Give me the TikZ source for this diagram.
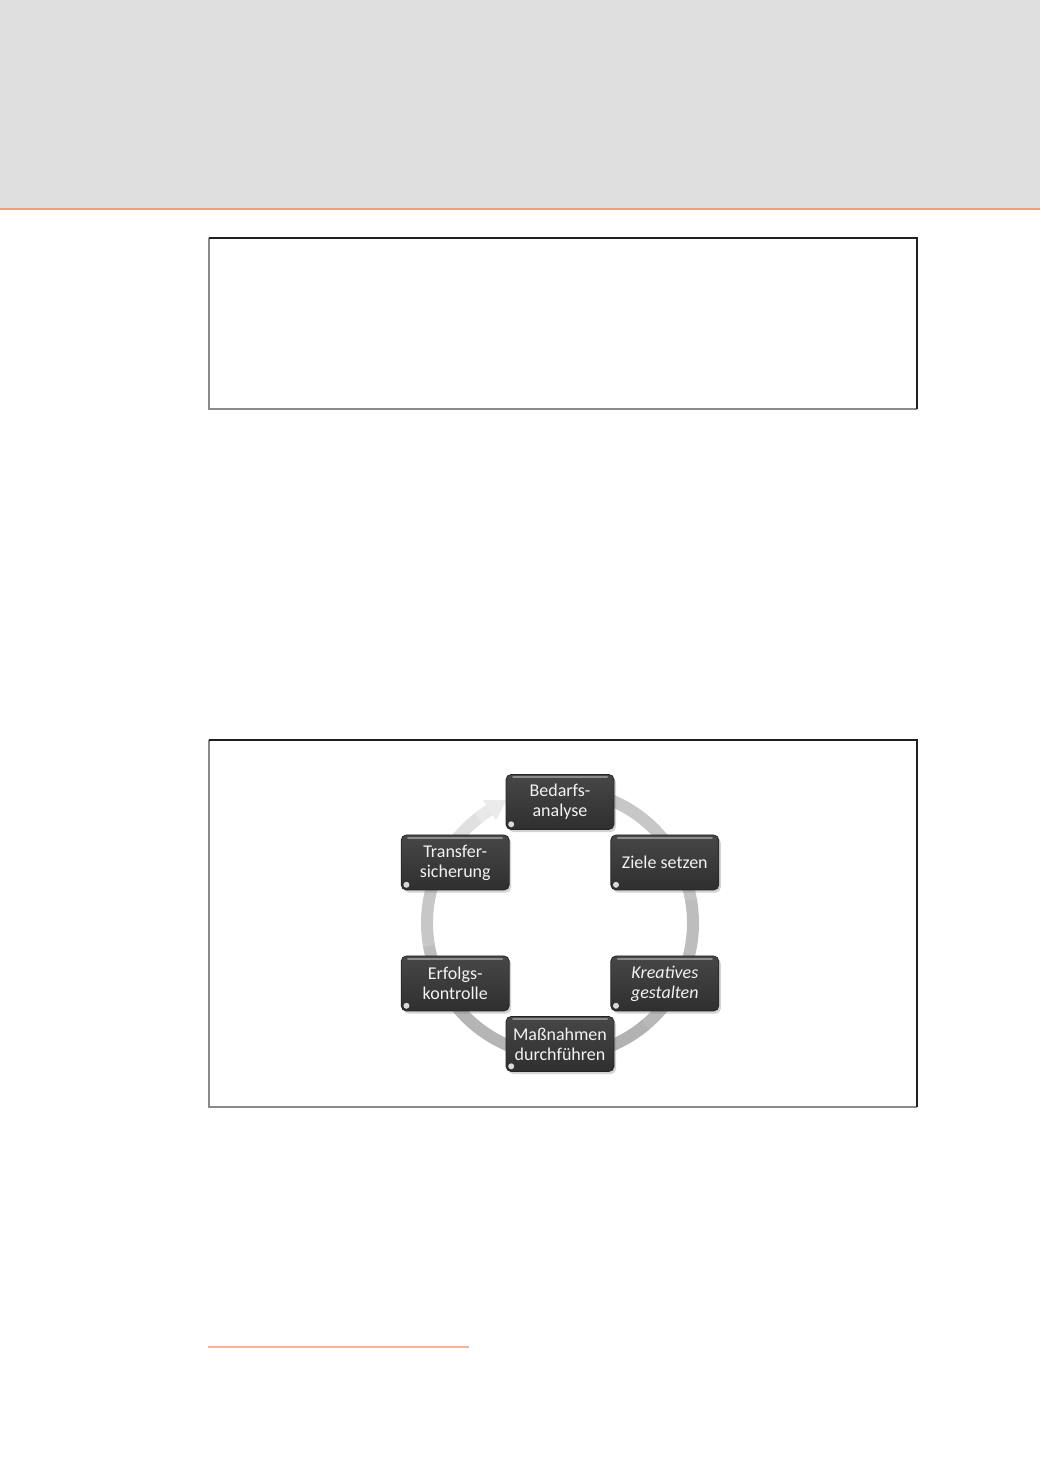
\documentclass[tikz,border=0pt]{standalone}
\usepackage{fontspec}
\setmainfont{Carlito}
\usetikzlibrary{shadows}
\definecolor{headergray}{HTML}{DFDFDF}
\definecolor{orangeline}{HTML}{F39C70}
\definecolor{footorange}{HTML}{F7B293}
\definecolor{boxdark}{HTML}{231F20}
\definecolor{boxgray}{HTML}{8C8A88}
\definecolor{nodetop}{HTML}{474747}
\definecolor{nodebottom}{HTML}{2F2F2F}
\definecolor{nodeedge}{HTML}{252525}
\newcommand{\stagefont}{\fontsize{9}{10}\selectfont}
\tikzset{
  stagebox/.style={rounded corners=2.6pt, top color=nodetop, bottom color=nodebottom,
    draw=nodeedge, line width=0.4pt, minimum width=54pt, minimum height=27.5pt,
    inner sep=0pt, align=center, text=white!95!black, font=\stagefont,
    drop shadow={shadow xshift=1pt, shadow yshift=-1.3pt, opacity=0.35},
    path picture={
      \draw[white!55!black, line width=1pt, line cap=round]
        ([xshift=3.5pt,yshift=-1.3pt]path picture bounding box.north west) --
        ([xshift=-3.5pt,yshift=-1.3pt]path picture bounding box.north east);
      \fill[white!85!black]
        ([xshift=2.6pt,yshift=2.6pt]path picture bounding box.south west) circle (1.5pt);
    }},
  boxdarkline/.style={draw=boxdark, line width=0.65pt},
  boxgrayline/.style={draw=boxgray, line width=1pt},
}
\begin{document}
\begin{tikzpicture}[x=0.5pt,y=0.5pt]
\useasboundingbox (0,0) rectangle (1040,1471);
% header
\fill[headergray] (0,1263) rectangle (1040,1471);
\draw[orangeline, line width=1.2pt] (0,1262) -- (1040,1262);
% upper empty box
\draw[boxgrayline] (208.5,1233) -- (208.5,1062) -- (917,1062);
\draw[boxdarkline] (208.5,1233) -- (917,1233) -- (917,1062);
% lower figure box
\draw[boxgrayline] (208.5,731) -- (208.5,364) -- (917,364);
\draw[boxdarkline] (208.5,731) -- (917,731) -- (917,364);
% footnote rule
\draw[footorange, line width=0.8pt] (208,124) -- (469,124);

% cycle ring
\coordinate (c) at (560,548);
\foreach \a/\b/\k in {68/40/22, 40/10/23, 10/-20/26, -20/-50/28, -50/-80/30,
  -80/-110/31, -110/-140/29, -140/-170/26, -170/-200/22, -200/-220/17,
  -220/-232/12, -232/-238/9}{
  \draw[black!\k, line width=6pt] ([shift={(\a:66.5pt)}]c) arc[start angle=\a, end angle=\b-0.7, radius=66.5pt];
}
\fill[black!8] ([shift={(122:60.5pt)}]c) -- ([shift={(122:72.5pt)}]c) -- ([shift={(113.5:67pt)}]c) -- cycle;

% stages
\node[stagebox] (bedarf) at ([shift={(90:60.5pt)}]c) {Bedarfs-\\analyse};
\node[stagebox] (ziele) at ([shift={(30:60.5pt)}]c) {Ziele setzen};
\node[stagebox] (kreativ) at ([shift={(-30:60.5pt)}]c) {\itshape Kreatives\\\itshape gestalten};
\node[stagebox] (massnahmen) at ([shift={(-90:60.5pt)}]c) {Maßnahmen\\durchführen};
\node[stagebox] (erfolg) at ([shift={(-150:60.5pt)}]c) {Erfolgs-\\kontrolle};
\node[stagebox] (transfer) at ([shift={(150:60.5pt)}]c) {Transfer-\\sicherung};
\end{tikzpicture}
\end{document}
